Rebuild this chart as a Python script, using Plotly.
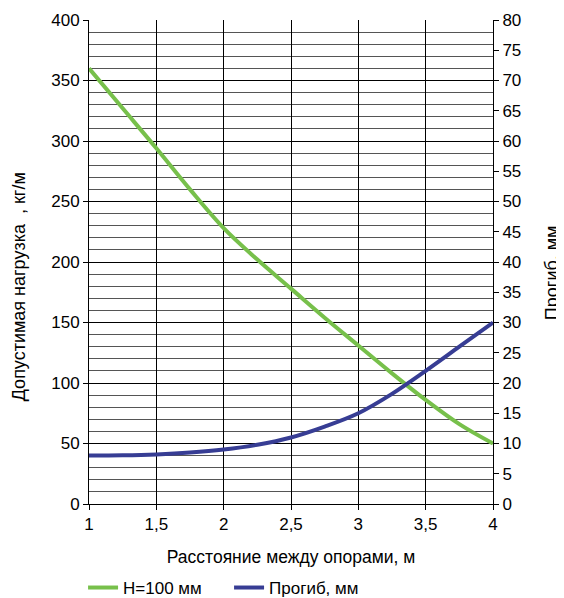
import plotly.graph_objects as go

x_vals = [1.0, 1.25, 1.5, 1.75, 2.0, 2.25, 2.5, 2.75, 3.0, 3.25, 3.5, 3.75, 4.0]
load_h100 = [360, 327, 294, 260, 228, 202, 178, 154, 131, 108, 86, 66, 50]
deflection = [8.0, 8.05, 8.2, 8.5, 9.0, 9.8, 11.0, 12.8, 15.0, 18.2, 22.0, 26.0, 30.0]

name_load = "H=100 мм"
name_defl = "Прогиб, мм"
title_left = "Допустимая нагрузка  , кг/м"
title_right = "Прогиб, мм"
title_x = "Расстояние между опорами, м"

fig = go.Figure()
fig.add_trace(go.Scatter(x=x_vals, y=load_h100, name=name_load, mode="lines",
                         line=dict(color="#77C04B", width=4, shape="spline")))
fig.add_trace(go.Scatter(x=x_vals, y=deflection, name=name_defl, mode="lines", yaxis="y2",
                         line=dict(color="#373D94", width=4, shape="spline")))

font = "Liberation Sans, Arial, sans-serif"
fig.update_layout(
    width=556, height=590,
    margin=dict(l=81, r=71, t=12, b=94, autoexpand=False),
    paper_bgcolor="white", plot_bgcolor="white",
    separators=", ",
    font=dict(family=font, size=17, color="black"),
    showlegend=True,
    legend=dict(orientation="h", x=0.135, xref="container", xanchor="left",
                y=0.017, yref="container", yanchor="middle",
                font=dict(size=17), entrywidth=101, entrywidthmode="pixels",
                tracegroupgap=0),
    xaxis=dict(range=[1, 4], dtick=0.5, tick0=1, showgrid=True, gridcolor="black", gridwidth=1,
               showline=True, linecolor="black", linewidth=1,
               ticks="outside", ticklen=5, tickcolor="black", automargin=False,
               title=dict(text=title_x, font=dict(size=17.5), standoff=17),
               zeroline=False),
    yaxis=dict(range=[0, 400], dtick=50, showgrid=True, gridcolor="black", gridwidth=1,
               minor=dict(dtick=10, showgrid=True, gridcolor="#555555", gridwidth=1),
               showline=True, linecolor="black", linewidth=1,
               ticks="outside", ticklen=5, tickcolor="black", automargin=False,
               zeroline=False),
    yaxis2=dict(range=[0, 80], dtick=5, overlaying="y", side="right", showgrid=False,
                showline=True, linecolor="black", linewidth=1,
                ticks="outside", ticklen=5, tickcolor="black", automargin=False,
                zeroline=False),
    annotations=[
        dict(text=title_left, textangle=-90, xref="paper", yref="paper",
             x=-0.173, y=0.448, xanchor="center", yanchor="middle",
             showarrow=False, font=dict(size=18)),
        dict(text=title_right, textangle=-90, xref="paper", yref="paper",
             x=1.146, y=0.479, xanchor="center", yanchor="middle",
             showarrow=False, font=dict(size=18)),
    ],
)

fig.write_html("out.html")
